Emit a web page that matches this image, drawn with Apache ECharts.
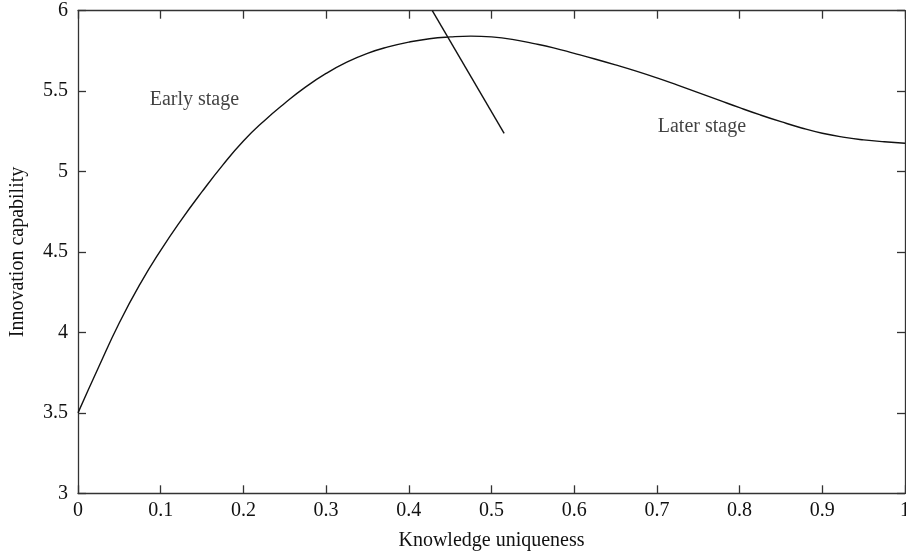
<!DOCTYPE html>
<html>
<head>
<meta charset="utf-8">
<script src="https://cdn.jsdelivr.net/npm/echarts@6/dist/echarts.min.js"></script>
<style>html,body{margin:0;padding:0;background:#fff}#c{width:906px;height:557px}</style>
</head>
<body>
<div id="c"></div>
<script>
// Data
const xValues = [0, 0.025, 0.05, 0.075, 0.1, 0.125, 0.15, 0.175, 0.2, 0.225, 0.25, 0.275, 0.3, 0.325, 0.35, 0.375, 0.4, 0.425, 0.45, 0.475, 0.5, 0.525, 0.55, 0.575, 0.6, 0.625, 0.65, 0.675, 0.7, 0.725, 0.75, 0.775, 0.8, 0.825, 0.85, 0.875, 0.9, 0.925, 0.95, 0.975, 1.0];
const yValues = [3.50, 3.785, 4.06, 4.30, 4.51, 4.70, 4.875, 5.04, 5.19, 5.315, 5.425, 5.525, 5.61, 5.68, 5.735, 5.775, 5.805, 5.826, 5.837, 5.842, 5.837, 5.822, 5.797, 5.769, 5.735, 5.70, 5.663, 5.624, 5.582, 5.537, 5.491, 5.444, 5.397, 5.352, 5.31, 5.271, 5.238, 5.214, 5.197, 5.185, 5.176];
const dividerX = [0.4284, 0.5153];
const dividerY = [6.0, 5.238];
const labels = [
  {text: 'Early stage', x: 0.0867, y: 5.445},
  {text: 'Later stage', x: 0.701, y: 5.278}
];
const xTicks = [0, 0.1, 0.2, 0.3, 0.4, 0.5, 0.6, 0.7, 0.8, 0.9, 1];
const yTicks = [3, 3.5, 4, 4.5, 5, 5.5, 6];

const font = 'Liberation Serif';
const axisColor = '#333';
const txtColor = '#111';
const curve = xValues.map((x, i) => [x, yValues[i]]);
const divider = dividerX.map((x, i) => [x, dividerY[i]]);
const fmt = list => v => { const r = Math.round(v * 10) / 10; return list.includes(r) ? String(r) : ''; };

const baseX = {
  type: 'value', min: 0, max: 1, interval: 0.1,
  axisLine: {show: true, onZero: false, lineStyle: {color: axisColor, width: 1.3}},
  axisTick: {show: true, inside: true, length: 8, lineStyle: {color: axisColor, width: 1.3}},
  splitLine: {show: false}
};
const baseY = {
  type: 'value', min: 3, max: 6, interval: 0.5,
  axisLine: {show: true, onZero: false, lineStyle: {color: axisColor, width: 1.3}},
  axisTick: {show: true, inside: true, length: 8, lineStyle: {color: axisColor, width: 1.3}},
  splitLine: {show: false}
};

const chart = echarts.init(document.getElementById('c'), null, {renderer: 'canvas'});
chart.setOption({
  animation: false,
  backgroundColor: '#fff',
  grid: {left: 78, right: 1, top: 10.7, bottom: 63.7, containLabel: false, outerBoundsMode: 'none'},
  xAxis: [
    Object.assign({}, baseX, {
      position: 'bottom',
      name: 'Knowledge uniqueness', nameLocation: 'middle', nameGap: 37,
      nameTextStyle: {fontFamily: font, fontSize: 20, color: txtColor},
      axisLabel: {show: true, margin: 7, fontFamily: font, fontSize: 20, color: txtColor, hideOverlap: false, formatter: fmt(xTicks)}
    }),
    Object.assign({}, baseX, {position: 'top', axisLabel: {show: false}})
  ],
  yAxis: [
    Object.assign({}, baseY, {
      position: 'left',
      name: 'Innovation capability', nameLocation: 'middle', nameGap: 50,
      nameTextStyle: {fontFamily: font, fontSize: 20, color: txtColor},
      axisLabel: {show: true, margin: 10, fontFamily: font, fontSize: 20, color: txtColor, hideOverlap: false, formatter: fmt(yTicks)}
    }),
    Object.assign({}, baseY, {position: 'right', axisLabel: {show: false}})
  ],
  series: [
    {
      type: 'line', data: curve, smooth: 0.5, showSymbol: false,
      lineStyle: {color: '#111', width: 1.4}, xAxisIndex: 0, yAxisIndex: 0
    },
    {
      type: 'line', data: divider, showSymbol: false,
      lineStyle: {color: '#111', width: 1.4}, xAxisIndex: 0, yAxisIndex: 0
    },
    {
      type: 'scatter', data: labels.map(l => ({value: [l.x, l.y], name: l.text})),
      symbolSize: 0, xAxisIndex: 0, yAxisIndex: 0, silent: true,
      label: {show: true, position: 'right', distance: 0, formatter: p => p.name,
        fontFamily: font, fontSize: 20, color: txtColor}
    }
  ]
});
</script>
</body>
</html>
